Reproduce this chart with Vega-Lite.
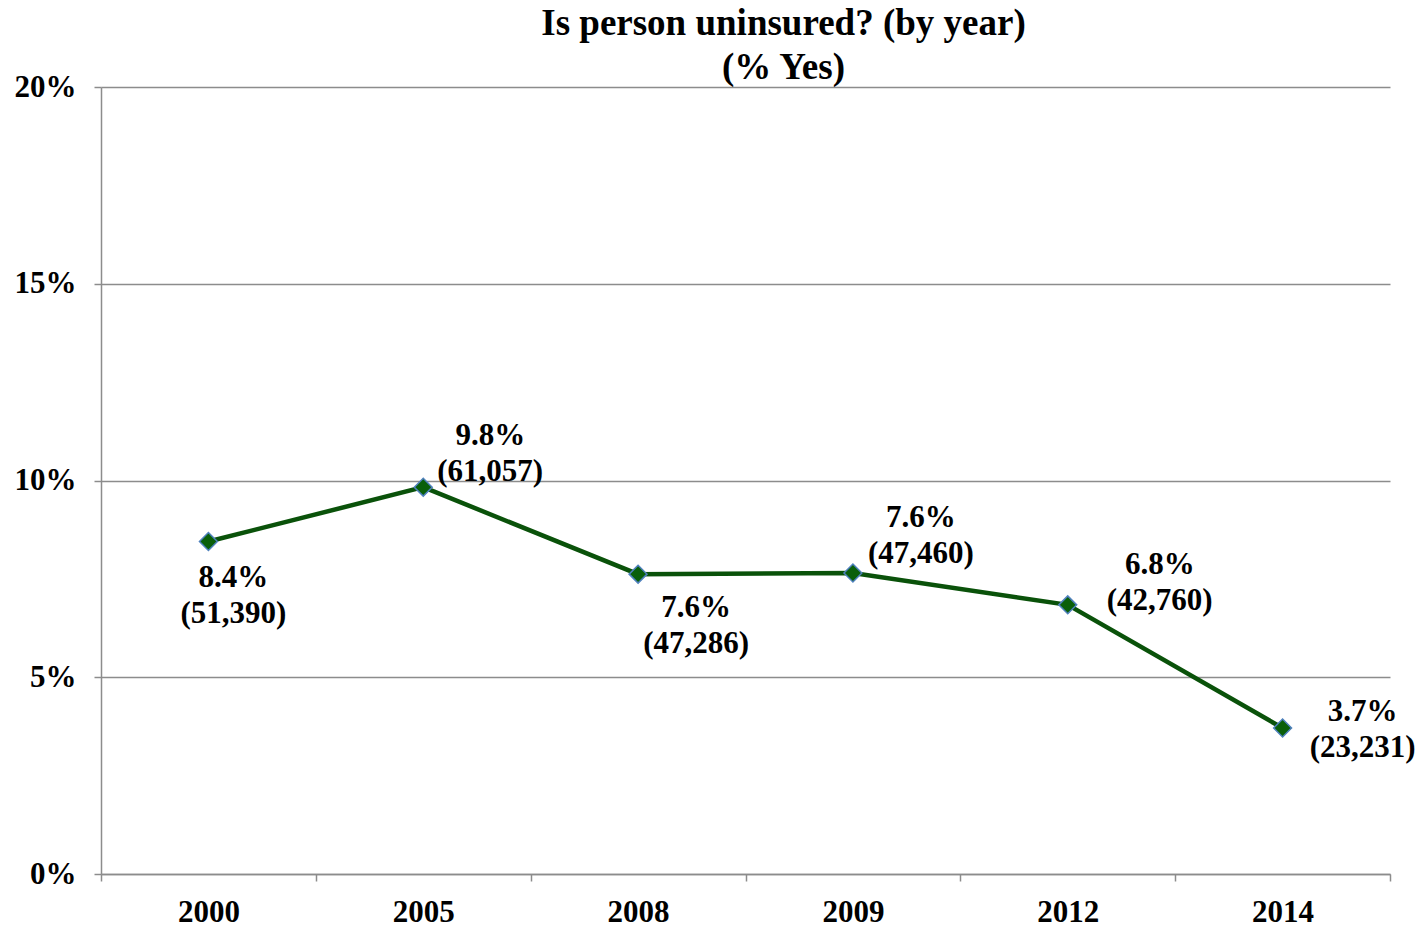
{
  "$schema": "https://vega.github.io/schema/vega-lite/v6.json",
  "width": 1289,
  "height": 787,
  "autosize": {"type": "none"},
  "padding": {"left": 101, "top": 87, "right": 33, "bottom": 54},
  "background": "white",
  "config": {
    "view": {"stroke": null},
    "font": "Liberation Serif",
    "axis": {
      "labelFont": "Liberation Serif",
      "labelFontWeight": "bold",
      "labelFontSize": 31,
      "labelColor": "black",
      "domainColor": "#8c8c8c",
      "tickColor": "#8c8c8c",
      "gridColor": "#8c8c8c",
      "domainWidth": 1.5,
      "tickWidth": 1.5,
      "gridWidth": 1.5,
      "tickSize": 7,
      "title": null
    }
  },
  "title": {
    "text": ["Is person uninsured? (by year)", "(% Yes)"],
    "font": "Liberation Serif",
    "fontSize": 37,
    "fontWeight": "bold",
    "color": "black",
    "lineHeight": 44,
    "anchor": "middle",
    "dx": 38,
    "offset": -16
  },
  "data": {
    "values": [
      {"year": "2000", "pct": 8.45, "label": "8.4%\n(51,390)"},
      {"year": "2005", "pct": 9.83, "label": "9.8%\n(61,057)"},
      {"year": "2008", "pct": 7.62, "label": "7.6%\n(47,286)"},
      {"year": "2009", "pct": 7.65, "label": "7.6%\n(47,460)"},
      {"year": "2012", "pct": 6.84, "label": "6.8%\n(42,760)"},
      {"year": "2014", "pct": 3.71, "label": "3.7%\n(23,231)"}
    ]
  },
  "encoding": {
    "x": {
      "field": "year",
      "type": "ordinal",
      "scale": {"paddingInner": 0, "paddingOuter": 0},
      "axis": {"labelAngle": 0, "labelPadding": 16, "grid": false, "tickBand": "extent"}
    },
    "y": {
      "field": "pct",
      "type": "quantitative",
      "scale": {"domain": [0, 20], "nice": false},
      "axis": {
        "values": [0, 5, 10, 15, 20],
        "labelExpr": "datum.value + '%'",
        "labelPadding": 18,
        "grid": true
      }
    }
  },
  "layer": [
    {"mark": {"type": "line", "color": "#0a520a", "strokeWidth": 4.5}},
    {
      "mark": {
        "type": "point",
        "shape": "diamond",
        "filled": true,
        "size": 320,
        "fill": "#0a5f0a",
        "stroke": "#4f81bd",
        "strokeWidth": 1.5,
        "opacity": 1
      }
    },
    {
      "transform": [{"filter": "datum.year == '2000'"}],
      "mark": {"type": "text", "font": "Liberation Serif", "fontWeight": "bold", "fontSize": 31, "lineBreak": "\n", "lineHeight": 36, "baseline": "middle", "dx": 25, "dy": 37},
      "encoding": {"text": {"field": "label"}}
    },
    {
      "transform": [{"filter": "datum.year == '2005'"}],
      "mark": {"type": "text", "font": "Liberation Serif", "fontWeight": "bold", "fontSize": 31, "lineBreak": "\n", "lineHeight": 36, "baseline": "middle", "dx": 67, "dy": -51},
      "encoding": {"text": {"field": "label"}}
    },
    {
      "transform": [{"filter": "datum.year == '2008'"}],
      "mark": {"type": "text", "font": "Liberation Serif", "fontWeight": "bold", "fontSize": 31, "lineBreak": "\n", "lineHeight": 36, "baseline": "middle", "dx": 58, "dy": 34},
      "encoding": {"text": {"field": "label"}}
    },
    {
      "transform": [{"filter": "datum.year == '2009'"}],
      "mark": {"type": "text", "font": "Liberation Serif", "fontWeight": "bold", "fontSize": 31, "lineBreak": "\n", "lineHeight": 36, "baseline": "middle", "dx": 68, "dy": -55},
      "encoding": {"text": {"field": "label"}}
    },
    {
      "transform": [{"filter": "datum.year == '2012'"}],
      "mark": {"type": "text", "font": "Liberation Serif", "fontWeight": "bold", "fontSize": 31, "lineBreak": "\n", "lineHeight": 36, "baseline": "middle", "dx": 92, "dy": -40},
      "encoding": {"text": {"field": "label"}}
    },
    {
      "transform": [{"filter": "datum.year == '2014'"}],
      "mark": {"type": "text", "font": "Liberation Serif", "fontWeight": "bold", "fontSize": 31, "lineBreak": "\n", "lineHeight": 36, "baseline": "middle", "dx": 80, "dy": -16},
      "encoding": {"text": {"field": "label"}}
    }
  ]
}
